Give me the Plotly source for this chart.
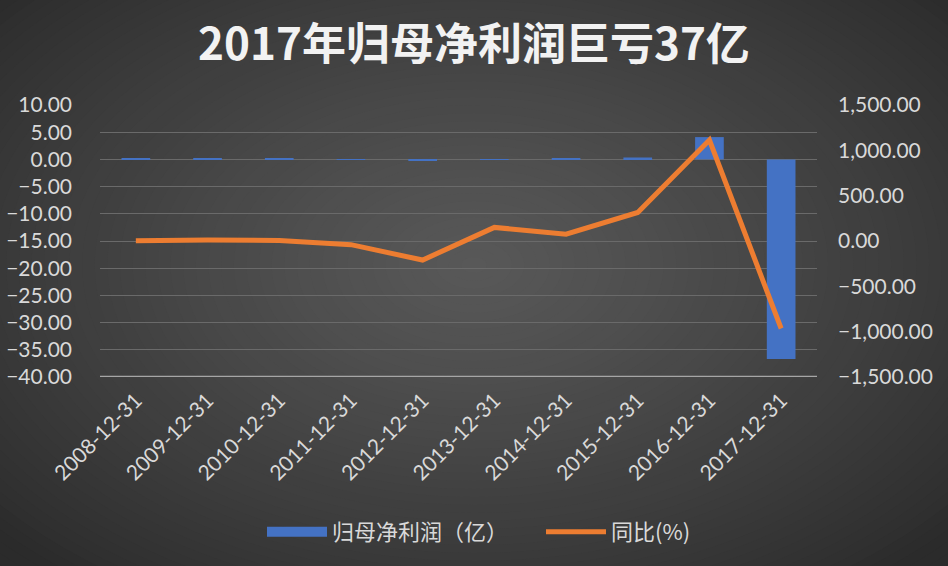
import plotly.graph_objects as go

categories = ["2008-12-31", "2009-12-31", "2010-12-31", "2011-12-31", "2012-12-31",
              "2013-12-31", "2014-12-31", "2015-12-31", "2016-12-31", "2017-12-31"]
profit = [0.08, 0.10, 0.09, 0.06, -0.25, 0.05, 0.08, 0.35, 4.1, -36.7]
yoy = [3, 12, 5, -40, -210, 150, 75, 315, 1113, -965]

bar_name = "归母净利润（亿）"
line_name = "同比(%)"
title_text = "2017年归母净利润巨亏37亿"

W, H = 948, 566
L, R, T, B = 100, 131, 105, 189
pw, ph = W - L - R, H - T - B

fig = go.Figure()
fig.add_trace(go.Bar(x=categories, y=profit, name=bar_name, yaxis="y", showlegend=False,
                     legendgroup="bar",
                     marker=dict(color="#4472C4", line=dict(width=0)), width=0.4))
# legend swatch for bars (wide rectangle like the reference)
fig.add_trace(go.Scatter(x=[categories[0]], y=[None], name=bar_name, mode="lines", legendgroup="bar",
                         legend="legend", line=dict(color="#4472C4", width=10)))
fig.add_trace(go.Scatter(x=categories, y=yoy, name=line_name, yaxis="y2", mode="lines",
                         legend="legend2", line=dict(color="#ED7D31", width=5)))

def px_to_paper_x(px):
    return (px - L) / pw

def px_to_paper_y(py):
    return (H - B - py) / ph

shapes = []
N = 60
cx, cy = 474, 265
for i in range(N):
    d = 1.6 * (1 - i / N)
    t = min(d / 1.37, 1.0) ** 1.2
    v = int(round(0x58 - (0x58 - 0x2b) * t))
    col = f"rgb({v},{v},{v})"
    rx, ry = 474 * d, 300 * d
    shapes.append(dict(type="circle", xref="paper", yref="paper", layer="below",
                       x0=px_to_paper_x(cx - rx), x1=px_to_paper_x(cx + rx),
                       y0=px_to_paper_y(cy + ry), y1=px_to_paper_y(cy - ry),
                       fillcolor=col, line=dict(width=0)))

legend_font = dict(size=22, color="#d9d9d9", family="'Noto Sans CJK SC', sans-serif")
font_fam = "Lato, 'Noto Sans CJK SC', sans-serif"
fig.update_layout(
    width=W, height=H,
    margin=dict(l=L, r=R, t=T, b=B, autoexpand=False),
    paper_bgcolor="#2b2b2b", plot_bgcolor="rgba(0,0,0,0)",
    shapes=shapes,
    title=dict(text="<b>" + title_text + "</b>", x=0.5, xref="container", xanchor="center",
               y=1 - 45 / H, yref="container", yanchor="middle",
               font=dict(family="'Noto Sans CJK SC', sans-serif", size=44, color="#f2f2f2")),
    font=dict(family=font_fam, color="#d9d9d9", size=20),
    showlegend=True,
    legend=dict(orientation="h", x=262 / W, xref="container", xanchor="left",
                y=1 - 532 / H, yref="container", yanchor="middle",
                font=legend_font, bgcolor="rgba(0,0,0,0)", itemwidth=60),
    legend2=dict(orientation="h", x=541 / W, xref="container", xanchor="left",
                 y=1 - 532 / H, yref="container", yanchor="middle",
                 font=legend_font, bgcolor="rgba(0,0,0,0)", itemwidth=60),
    xaxis=dict(type="category", range=[-0.5, 9.5], tickangle=-45, automargin=False,
               tickfont=dict(size=21, color="#d9d9d9"),
               showgrid=False, showline=False, ticks="", ticklabelstandoff=6),
    yaxis=dict(range=[-40, 10], dtick=5, tickformat=".2f", showgrid=True, automargin=False,
               gridcolor="#6a6a6a", gridwidth=1.3, zeroline=False, ticks="",
               tickfont=dict(size=21, color="#d9d9d9"), ticklabelstandoff=27),
    yaxis2=dict(range=[-1500, 1500], dtick=500, tickformat=",.2f", overlaying="y", side="right",
                showgrid=False, zeroline=False, ticks="", automargin=False,
                tickfont=dict(size=21, color="#d9d9d9"), ticklabelstandoff=20),
)
fig.add_shape(type="line", xref="paper", yref="y", x0=0, x1=1, y0=-40, y1=-40,
              line=dict(color="#a6a6a6", width=2.5), layer="above")

fig.write_html("out.html")
